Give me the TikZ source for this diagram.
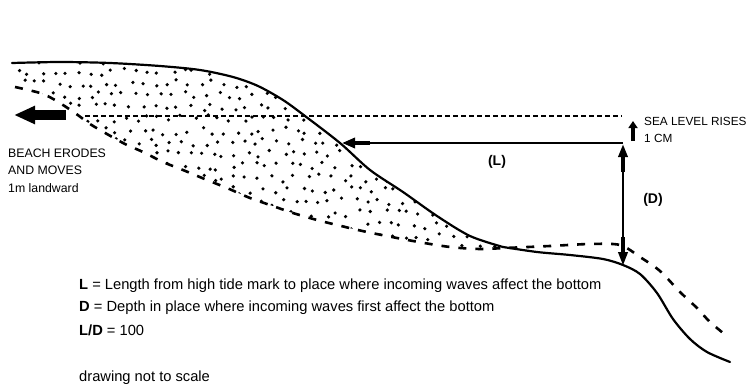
\documentclass[tikz,border=0pt]{standalone}
\usepackage{fontspec}
\setmainfont{Liberation Sans}
\usetikzlibrary{arrows.meta}
\begin{document}
\begin{tikzpicture}[x=1pt,y=-1pt,
  coast/.style={line width=2.2pt, line join=round, line cap=round},
  oldbed/.style={line width=2.6pt, dash pattern=on 8pt off 9pt},
  sealine/.style={line width=1.6pt, dash pattern=on 5pt off 3pt},
  lbl/.style={font=\fontsize{12.3}{14}\selectfont, inner sep=0pt},
  keytext/.style={font=\fontsize{14.7}{17}\selectfont, inner sep=0pt, anchor=base west},
  bl/.style={font=\fontsize{14}{16}\selectfont\bfseries, inner sep=0pt},
  grain/.style={fill=black}
]
\useasboundingbox (0,0) rectangle (750,386);

% present-day beach and sea-floor profile
\def\toppts{(12,63) (60,62) (110,63) (160,66) (200,70) (233,77) (258,86) (283,100) (305,116) (340,143) (370,170) (403,192) (437,216) (470,236) (503,247)}
\def\shelfpts{(503,247) (537,252) (570,255) (603,259) (623,265) (640,274) (657,293) (673,319) (690,339) (707,352) (730,362)}
% profile after the beach has moved landward
\def\bedpts{(15,87) (40,93) (55,100) (75,113) (90,124) (107,134) (125,144) (143,152) (163,162) (183,170) (207,180) (227,188) (250,198) (270,205) (293,213) (317,220) (337,225) (367,232) (413,241) (450,247) (480,249) (505,248) (550,246) (590,244) (620,245) (640,257) (660,271) (680,292) (697,308) (710,322) (728,337)}
\def\bedback{(505,248) (480,249) (450,247) (413,241) (367,232) (337,225) (317,220) (293,213) (270,205) (250,198) (227,188) (207,180) (183,170) (163,162) (143,152) (125,144) (107,134) (90,124) (75,113) (55,100) (40,93) (15,87)}

% stippled sand between the two profiles
\begin{scope}
  \clip plot[smooth, tension=0.5] coordinates {\toppts} -- plot[smooth, tension=0.5] coordinates {\bedback} -- cycle;
  \pgfmathsetseed{11}
  \foreach \i in {0,...,43} {
    \foreach \j in {0,...,16} {
      \pgfmathsetmacro{\gx}{12 + \i*11.8 + mod(\j,2)*5.9 + rand*4}
      \pgfmathsetmacro{\gy}{60 + \j*11.8 + rand*4}
      \fill[grain] (\gx,\gy) circle (1.8pt);
    }
  }
\end{scope}

\draw[coast] plot[smooth, tension=0.5] coordinates {\toppts};
\draw[coast] plot[smooth, tension=0.5] coordinates {\shelfpts};
\draw[oldbed] plot[smooth, tension=0.5] coordinates {\bedpts};

% raised sea level
\coordinate (seaW) at (85,116);
\coordinate (seaE) at (622,116);
\draw[sealine] (seaW) -- (seaE);

% landward movement arrow
\coordinate (moveS) at (66,115);
\coordinate (moveT) at (14,115);
\draw[line width=10pt, -{Triangle[length=21pt,width=17pt]}] (moveS) -- (moveT);

% length L
\coordinate (Lend) at (623,143);
\coordinate (Lmid) at (370,143);
\coordinate (Ltip) at (342,143);
\draw[line width=1.8pt] (Lend) -- (Lmid);
\draw[line width=4pt, -{Triangle[length=13pt,width=10pt]}] (Lmid) -- (Ltip);

% depth D
\coordinate (Dtop) at (623,144);
\coordinate (Dtopk) at (623,172);
\coordinate (Dbotk) at (623,237);
\coordinate (Dbot) at (623,266);
\draw[line width=1.8pt] (Dtopk) -- (Dbotk);
\draw[line width=3.5pt, -{Triangle[length=13pt,width=9pt]}] (Dtopk) -- (Dtop);
\draw[line width=3.5pt, -{Triangle[length=14pt,width=9pt]}] (Dbotk) -- (Dbot);

% sea level rise arrow
\coordinate (riseS) at (633,141);
\coordinate (riseT) at (633,121);
\draw[line width=4pt, -{Triangle[length=7pt,width=9pt]}] (riseS) -- (riseT);

% labels
\node[lbl, anchor=base west] (beach1) at (8,157) {BEACH ERODES};
\node[lbl, anchor=base west] (beach2) at (8,174.5) {AND MOVES};
\node[lbl, anchor=base west] (beach3) at (8,192) {1m landward};
\node[lbl, anchor=base west, font=\fontsize{11.8}{14}\selectfont] (rise1) at (644,125) {SEA LEVEL RISES};
\node[lbl, anchor=base west, font=\fontsize{11.8}{14}\selectfont] (rise2) at (644,142) {1 CM};
\node[bl] (Llbl) at (497,162) {(L)};
\node[bl] (Dlbl) at (653,200) {(D)};

\node[keytext] (key1) at (79,289) {\textbf{L} = Length from high tide mark to place where incoming waves affect the bottom};
\node[keytext] (key2) at (79,311.5) {\textbf{D} = Depth in place where incoming waves first affect the bottom};
\node[keytext] (key3) at (79,335) {\textbf{L/D} = 100};
\node[keytext] (note) at (79,381) {drawing not to scale};
\end{tikzpicture}
\end{document}
